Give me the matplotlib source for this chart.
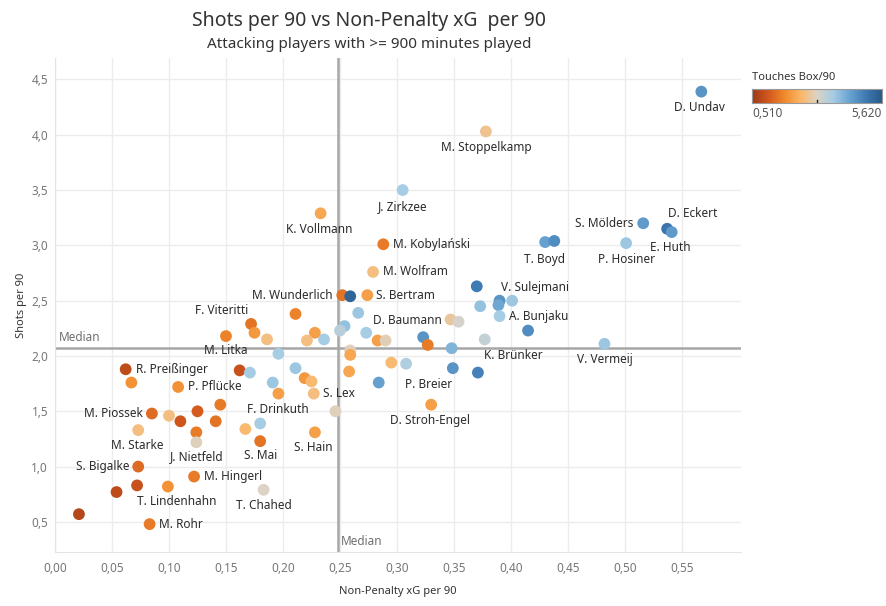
import matplotlib
matplotlib.use('Agg')
import matplotlib.pyplot as plt
import matplotlib.colors as mcolors
import numpy as np

plt.rcParams['font.family'] = ['Noto Sans', 'DejaVu Sans']

# Daten
names = ['', '', '', 'F. Viteritti', '', '', 'R. Preißinger', 'M. Litka', '', '',
         '', 'P. Pflücke', '', 'F. Drinkuth', '', '', 'M. Piossek', '', '', '',
         'M. Starke', '', 'J. Nietfeld', '', '', 'S. Mai', 'S. Bigalke', 'M. Hingerl', '', '',
         'T. Lindenhahn', 'T. Chahed', '', 'M. Rohr', 'M. Wunderlich', '', 'S. Bertram', 'V. Sulejmani', '', '',
         '', '', '', '', '', '', '', '', 'D. Baumann', '',
         '', '', '', 'K. Brünker', '', '', '', '', '', '',
         '', 'S. Lex', '', 'P. Breier', '', 'D. Stroh-Engel', '', 'S. Hain', 'M. Stoppelkamp', 'J. Zirkzee',
         'K. Vollmann', 'M. Kobylański', 'M. Wolfram', 'T. Boyd', '', 'P. Hosiner', '', '', '', 'A. Bunjaku',
         '', 'V. Vermeij', 'D. Undav', 'S. Mölders', 'D. Eckert', 'E. Huth']

npxg = [0.211, 0.172, 0.175, 0.150, 0.186, 0.196, 0.062, 0.162, 0.171, 0.211,
        0.067, 0.108, 0.191, 0.196, 0.145, 0.125, 0.085, 0.100, 0.110, 0.141,
        0.073, 0.124, 0.124, 0.167, 0.180, 0.180, 0.073, 0.122, 0.054, 0.072,
        0.099, 0.183, 0.021, 0.083, 0.252, 0.259, 0.274, 0.370, 0.373, 0.266,
        0.228, 0.221, 0.236, 0.254, 0.250, 0.273, 0.283, 0.290, 0.347, 0.354,
        0.323, 0.327, 0.348, 0.377, 0.259, 0.259, 0.295, 0.308, 0.258, 0.219,
        0.225, 0.227, 0.284, 0.349, 0.371, 0.330, 0.246, 0.228, 0.378, 0.305,
        0.233, 0.288, 0.279, 0.430, 0.438, 0.501, 0.390, 0.401, 0.389, 0.390,
        0.415, 0.482, 0.567, 0.516, 0.537, 0.541]

shots = [2.38, 2.29, 2.21, 2.18, 2.15, 2.02, 1.88, 1.87, 1.85, 1.89,
         1.76, 1.72, 1.76, 1.66, 1.56, 1.50, 1.48, 1.46, 1.41, 1.41,
         1.33, 1.31, 1.22, 1.34, 1.39, 1.23, 1.00, 0.91, 0.77, 0.83,
         0.82, 0.79, 0.57, 0.48, 2.55, 2.54, 2.55, 2.63, 2.45, 2.39,
         2.21, 2.14, 2.15, 2.27, 2.23, 2.21, 2.14, 2.14, 2.33, 2.31,
         2.17, 2.10, 2.07, 2.15, 2.05, 2.01, 1.94, 1.93, 1.86, 1.80,
         1.77, 1.66, 1.76, 1.89, 1.85, 1.56, 1.50, 1.31, 4.03, 3.50,
         3.29, 3.01, 2.76, 3.03, 3.04, 3.02, 2.50, 2.50, 2.46, 2.36,
         2.23, 2.11, 4.39, 3.20, 3.15, 3.12]

touches = [1.7, 1.5, 2.0, 1.7, 2.6, 3.7, 0.9, 1.0, 3.7, 3.8,
           1.9, 1.9, 3.8, 2.1, 1.6, 1.2, 1.4, 2.6, 1.1, 1.5,
           2.6, 1.6, 3.0, 2.5, 3.7, 1.5, 1.4, 1.6, 0.9, 1.0,
           1.9, 3.05, 0.8, 1.6, 1.5, 5.4, 2.1, 5.0, 3.9, 3.8,
           2.1, 2.6, 3.7, 3.9, 3.5, 3.7, 2.1, 2.95, 2.8, 3.15,
           4.6, 1.6, 4.1, 3.35, 3.0, 2.2, 2.5, 3.6, 2.2, 2.0,
           2.5, 2.6, 4.4, 4.6, 4.9, 2.1, 3.0, 2.1, 2.7, 3.7,
           2.2, 1.6, 2.6, 4.4, 4.7, 3.8, 4.6, 3.8, 4.3, 3.7,
           4.7, 3.8, 4.6, 4.5, 5.1, 4.5]

median_xg = 0.248
median_shots = 2.07
touch_min, touch_max = 0.51, 5.62

# Beschriftungs-Versatz in Pixeln (dx, dy, Ausrichtung)
label_pos = {
    'D. Undav': (-2, -16, 'center'), 'M. Stoppelkamp': (0, -16, 'center'),
    'J. Zirkzee': (0, -16, 'center'), 'K. Vollmann': (-1, -16, 'center'),
    'M. Kobylański': (10, 0, 'left'), 'M. Wolfram': (10, 0, 'left'),
    'M. Wunderlich': (-10, 0, 'right'), 'S. Bertram': (9, 0, 'left'),
    'D. Baumann': (-9, -1, 'right'), 'P. Breier': (-24, -16, 'center'),
    'D. Stroh-Engel': (-1, -16, 'center'), 'S. Lex': (9, 0, 'left'),
    'F. Drinkuth': (-1, -16, 'center'), 'S. Hain': (-2, -15, 'center'),
    'F. Viteritti': (-4, 26, 'center'), 'M. Litka': (-14, 20, 'center'),
    'R. Preißinger': (10, 0, 'left'), 'P. Pflücke': (10, 0, 'left'),
    'M. Piossek': (-9, 0, 'right'), 'M. Starke': (-1, -15, 'center'),
    'J. Nietfeld': (0, -14, 'center'), 'S. Mai': (0, -14, 'center'),
    'S. Bigalke': (-9, 0, 'right'), 'M. Hingerl': (10, 0, 'left'),
    'T. Lindenhahn': (9, -15, 'center'), 'T. Chahed': (0, -16, 'center'),
    'M. Rohr': (9, 0, 'left'), 'T. Boyd': (-1, -17, 'center'),
    'P. Hosiner': (0, -16, 'center'), 'S. Mölders': (-10, 0, 'right'),
    'D. Eckert': (26, 15, 'center'), 'E. Huth': (-1, -15, 'center'),
    'V. Sulejmani': (24, -1, 'left'), 'A. Bunjaku': (9, 0, 'left'),
    'K. Brünker': (29, -16, 'center'), 'V. Vermeij': (0, -16, 'center'),
}

# Orange-Blau divergierende Farbskala
cmap = mcolors.LinearSegmentedColormap.from_list('orange_blue', [
    '#9e3a17', '#d3581d', '#f08a2c', '#fbb767', '#dcd3c6',
    '#a6cde4', '#6aa4d1', '#3f7bb4', '#285a8a'])
norm = mcolors.Normalize(touch_min, touch_max)

fig = plt.figure(figsize=(8.87, 6.06), dpi=100)
ax = fig.add_axes([55/887, 1 - 552/606, 686/887, 494/606])

ax.scatter(npxg, shots, c=touches, cmap=cmap, norm=norm, s=72, linewidths=0, zorder=3)

for n, x, y in zip(names, npxg, shots):
    if n:
        dx, dy, ha = label_pos[n]
        ax.annotate(n, (x, y), xytext=(dx, dy), textcoords='offset pixels',
                    ha=ha, va='center', fontsize=8.5, color='#2b2b2b', zorder=4)

# Median-Linien
ax.axvline(median_xg, color='#a6a6a6', lw=1.8, zorder=2)
ax.axhline(median_shots, color='#a6a6a6', lw=1.8, zorder=2)
ax.text(0.003, median_shots + 0.04, 'Median', fontsize=8.5, color='#707070', va='bottom')
ax.text(median_xg + 0.003, 0.26, 'Median', fontsize=8.5, color='#707070', va='bottom')

ax.set_xlim(0, 0.6018)
ax.set_ylim(0.228, 4.694)
ax.set_xticks(np.arange(0, 0.56, 0.05))
ax.set_yticks(np.arange(0.5, 4.6, 0.5))
ax.set_xticklabels([f'{v:.2f}'.replace('.', ',') for v in np.arange(0, 0.56, 0.05)])
ax.set_yticklabels([f'{v:.1f}'.replace('.', ',') for v in np.arange(0.5, 4.6, 0.5)])
ax.tick_params(length=0, labelsize=8.5, labelcolor='#777777')
ax.tick_params(axis='x', pad=7)
ax.tick_params(axis='y', pad=5)
ax.grid(True, color='#ececec', lw=1)
ax.set_axisbelow(True)
for s in ['top', 'right']:
    ax.spines[s].set_visible(False)
for s in ['left', 'bottom']:
    ax.spines[s].set_color('#e4e4e4')

ax.set_xlabel('Non-Penalty xG per 90', fontsize=8, color='#333333', fontweight='semibold', labelpad=8)
ax.set_ylabel('Shots per 90', fontsize=8, color='#333333', fontweight='semibold', labelpad=3)

fig.text(369/887, 1 - 21/606, 'Shots per 90 vs Non-Penalty xG  per 90', ha='center', va='center',
         fontsize=14, color='#333333')
fig.text(369/887, 1 - 45/606, 'Attacking players with >= 900 minutes played', ha='center', va='center',
         fontsize=11, color='#333333')

# Legende (Farbskala)
cax = fig.add_axes([752/887, 1 - 103/606, 130/887, 14/606])
cax.imshow(np.linspace(0, 1, 256)[None, :], aspect='auto', cmap=cmap, extent=(0, 1, 0, 1))
cax.set_xticks([])
cax.set_yticks([])
for sp in cax.spines.values():
    sp.set_color('#9a9a9a')
cax.plot([0.5, 0.5], [0, 0.25], color='#222222', lw=1)
cax.set_xlim(0, 1)
cax.set_ylim(0, 1)
fig.text(752/887, 1 - 77/606, 'Touches Box/90', fontsize=8, fontweight='bold', color='#333333', va='center')
fig.text(752/887, 1 - 114/606, '0,510', fontsize=8.5, color='#555555', va='center')
fig.text(882/887, 1 - 114/606, '5,620', fontsize=8.5, color='#555555', va='center', ha='right')

fig.savefig('out.png', dpi=100)
